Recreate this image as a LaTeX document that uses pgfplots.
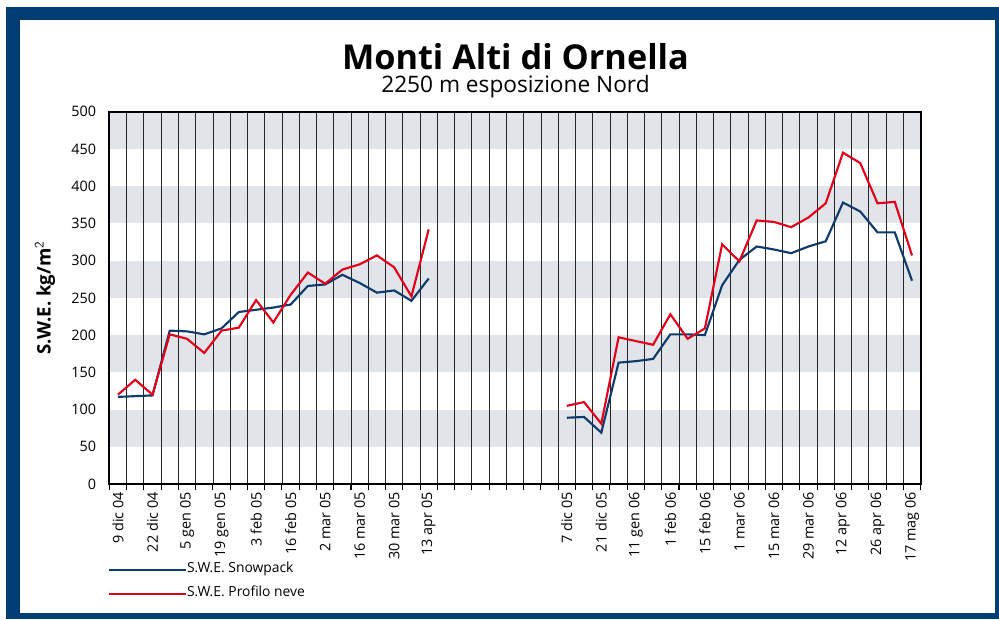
\documentclass[border=0pt]{standalone}
\usepackage{pgfplots}
\pgfplotsset{compat=1.18}
\usepackage{fontspec}
\setmainfont{Open Sans}
\definecolor{frameblue}{HTML}{003D73}
\definecolor{swpblue}{HTML}{0D3B6B}
\definecolor{profred}{HTML}{E2001A}
\definecolor{bandgray}{HTML}{E1E5EA}

\begin{document}
\begin{tikzpicture}
% 1px = 0.75pt, picture 999x619 px
\path (0,0) rectangle (749.25pt,464.25pt);
% blue frame, one strip per side
\fill[frameblue] (4.5pt,0pt) rectangle (15pt,459pt);
\fill[frameblue] (746.25pt,0pt) rectangle (749.25pt,459pt);
\fill[frameblue] (4.5pt,449.25pt) rectangle (749.25pt,459pt);
\fill[frameblue] (4.5pt,0pt) rectangle (749.25pt,4.5pt);

\node[font=\fontsize{25.7}{30}\selectfont\bfseries, anchor=base, inner sep=0pt, text depth=0pt] at (386.6pt,411.75pt) {Monti Alti di Ornella};
\node[font=\fontsize{17}{20}\selectfont, anchor=base, inner sep=0pt, text height=11pt] at (386.6pt,394.5pt) {2250 m esposizione Nord};

\begin{axis}[
    set layers=standard,
    at={(82pt,101.25pt)}, anchor=south west,
    scale only axis,
    width=608.5pt, height=279.2pt,
    xmin=-0.5, xmax=46.5,
    ymin=0, ymax=500,
    ytick={0,50,...,500},
    xtick={0,2,...,18,26,28,...,46},
    xticklabels={9 dic 04,22 dic 04,5 gen 05,19 gen 05,3 feb 05,16 feb 05,2 mar 05,16 mar 05,30 mar 05,13 apr 05,
                 7 dic 05,21 dic 05,11 gen 06,1 feb 06,15 feb 06,1 mar 06,15 mar 06,29 mar 06,12 apr 06,26 apr 06,17 mag 06},
    minor xtick={-0.5,0.5,...,46.5},
    xminorgrids=true,
    minor grid style={black!85, line width=0.6pt},
    tick align=outside,
    tick pos=left,
    major tick length=0pt,
    minor tick length=4.5pt,
    minor x tick style={black, line width=0.8pt},
    ytick style={draw=none},
    axis line style={black, line width=1.6pt},
    tick label style={font=\fontsize{10.8}{12}\selectfont},
    /pgf/number format/assume math mode=true,
    xticklabel style={rotate=90, anchor=east, inner sep=0pt},
    xticklabel shift=6pt,
    yticklabel style={inner sep=0pt},
    yticklabel shift=9.75pt,
    ylabel={S.W.E. kg/m$^{\mathsf{2}}$},
    ylabel style={font=\fontsize{14}{16}\selectfont\bfseries, at={(axis description cs:-0.0665,0.5)}, anchor=south, inner sep=0pt},
    unbounded coords=jump,
    legend style={at={(axis description cs:-0.002,-0.212)}, anchor=north west, draw=none, fill=none,
        inner sep=0pt, outer sep=0pt, row sep=8pt,
        nodes={font=\fontsize{10.4}{12}\selectfont, inner sep=0pt, text height=7.5pt, text depth=2.5pt}},
    legend cell align=left,
    legend image code/.code={\draw[#1, line width=1.5pt] (0pt,0pt) -- (52.5pt,0pt); \path (52.5pt,0pt) -- (58pt,0pt);},
]
\begin{pgfonlayer}{axis background}
\fill[bandgray] (axis cs:-0.5,50) rectangle (axis cs:46.5,100);
\fill[bandgray] (axis cs:-0.5,150) rectangle (axis cs:46.5,200);
\fill[bandgray] (axis cs:-0.5,250) rectangle (axis cs:46.5,300);
\fill[bandgray] (axis cs:-0.5,350) rectangle (axis cs:46.5,400);
\fill[bandgray] (axis cs:-0.5,450) rectangle (axis cs:46.5,500);
\end{pgfonlayer}

\addplot[swpblue, line width=1.6pt] coordinates {
 (0,117) (1,118) (2,119) (3,206) (4,205) (5,201) (6,209) (7,231) (8,234) (9,237)
 (10,241) (11,266) (12,268) (13,281) (14,270) (15,257) (16,260) (17,246) (18,276)
 (19,nan)
 (26,89) (27,90) (28,69) (29,163) (30,165) (31,168) (32,201) (33,201) (34,200)
 (35,267) (36,301) (37,319) (38,315) (39,310) (40,319) (41,326) (42,378) (43,366)
 (44,338) (45,338) (46,273)
};
\addlegendentry{S.W.E. Snowpack}

\addplot[profred, line width=1.6pt] coordinates {
 (0,120) (1,140) (2,120) (3,201) (4,195) (5,176) (6,206) (7,210) (8,247) (9,217)
 (10,254) (11,284) (12,269) (13,288) (14,295) (15,307) (16,291) (17,252) (18,342)
 (19,nan)
 (26,105) (27,110) (28,81) (29,197) (30,192) (31,187) (32,228) (33,195) (34,209)
 (35,322) (36,299) (37,354) (38,352) (39,345) (40,358) (41,377) (42,445) (43,431)
 (44,377) (45,379) (46,307)
};
\addlegendentry{S.W.E. Profilo neve}
\end{axis}
\end{tikzpicture}
\end{document}
